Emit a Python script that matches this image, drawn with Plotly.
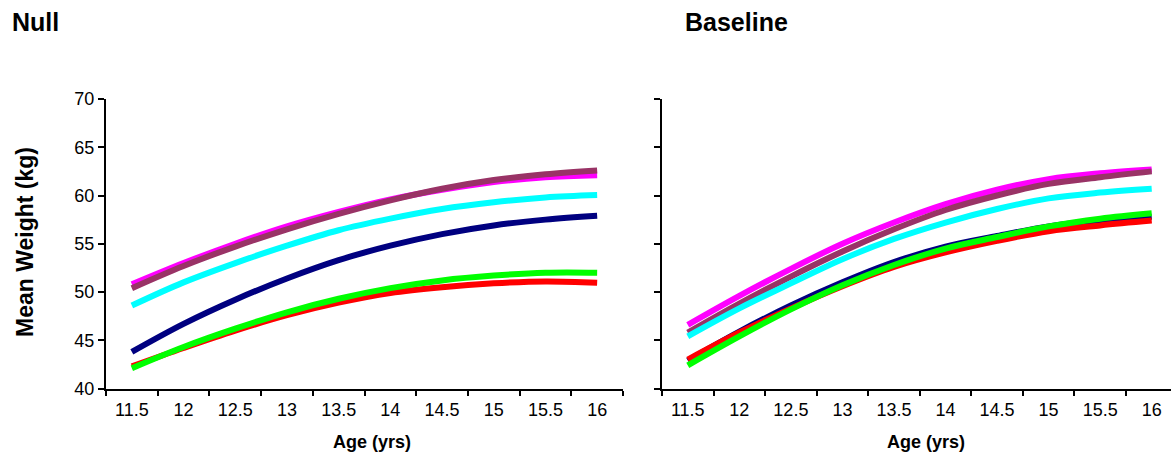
import plotly.graph_objects as go

W, H = 1171, 458

ages = [11.5, 12, 12.5, 13, 13.5, 14, 14.5, 15, 15.5, 16]
tick_labels = ["11.5", "12", "12.5", "13", "13.5", "14", "14.5", "15", "15.5", "16"]

# Null panel
null_magenta = [50.8, 53.0, 55.0, 56.8, 58.3, 59.6, 60.6, 61.4, 61.9, 62.1]
null_brown = [50.4, 52.7, 54.7, 56.5, 58.1, 59.5, 60.7, 61.6, 62.2, 62.6]
null_cyan = [48.6, 51.0, 53.0, 54.8, 56.4, 57.6, 58.6, 59.3, 59.8, 60.05]
null_navy = [43.8, 46.7, 49.2, 51.4, 53.3, 54.8, 56.0, 56.9, 57.5, 57.9]
null_red = [42.3, 44.2, 46.0, 47.6, 48.9, 49.9, 50.5, 50.9, 51.1, 50.96]
null_green = [42.1, 44.3, 46.2, 47.9, 49.3, 50.4, 51.2, 51.7, 52.0, 52.0]

# Baseline panel
base_magenta = [46.6, 49.6, 52.4, 55.0, 57.2, 59.1, 60.6, 61.7, 62.3, 62.7]
base_brown = [45.8, 48.8, 51.6, 54.2, 56.5, 58.5, 60.0, 61.2, 61.9, 62.5]
base_cyan = [45.4, 48.3, 50.9, 53.4, 55.5, 57.2, 58.6, 59.7, 60.3, 60.7]
base_navy = [42.9, 45.9, 48.6, 51.0, 53.1, 54.7, 55.8, 56.8, 57.4, 57.8]
base_red = [43.0, 45.8, 48.3, 50.6, 52.6, 54.1, 55.3, 56.3, 56.9, 57.4]
base_green = [42.4, 45.4, 48.2, 50.7, 52.8, 54.5, 55.7, 56.8, 57.6, 58.15]

colors = {
    "magenta": "#FF00FF",
    "brown": "#993366",
    "cyan": "#00FFFF",
    "navy": "#000080",
    "red": "#FF0000",
    "green": "#00FF00",
}

null_series = [("magenta", null_magenta), ("brown", null_brown), ("cyan", null_cyan),
               ("navy", null_navy), ("red", null_red), ("green", null_green)]
base_series = [("magenta", base_magenta), ("brown", base_brown), ("cyan", base_cyan),
               ("navy", base_navy), ("red", base_red), ("green", base_green)]

fig = go.Figure()
for name, vals in null_series:
    fig.add_trace(go.Scatter(x=ages, y=vals, mode="lines", name=name,
                             line=dict(color=colors[name], width=6, shape="spline", smoothing=1),
                             xaxis="x", yaxis="y", showlegend=False, hoverinfo="skip"))
for name, vals in base_series:
    fig.add_trace(go.Scatter(x=ages, y=vals, mode="lines", name=name,
                             line=dict(color=colors[name], width=6, shape="spline", smoothing=1),
                             xaxis="x2", yaxis="y2", showlegend=False, hoverinfo="skip"))

FONT = "Liberation Sans, Arial, sans-serif"
ydom = [(H - 388.5) / H, (H - 99) / H]

def xaxis(dom, rng):
    return dict(domain=dom, range=rng, tickmode="array", tickvals=ages, ticktext=tick_labels,
                ticks="", showline=True, linecolor="black", linewidth=2, showgrid=False,
                zeroline=False, automargin=False, ticklabelstandoff=4,
                tickfont=dict(family=FONT, size=18, color="black"),
                minor=dict(ticks="outside", tick0=11.25, dtick=0.5, ticklen=5,
                           tickcolor="black", tickwidth=1.5, showgrid=False),
                fixedrange=True)

def yaxis(anchor, showlabels):
    return dict(domain=ydom, range=[40, 70], tickmode="linear", tick0=40, dtick=5,
                ticks="outside", ticklen=6, tickwidth=1.5, tickcolor="black",
                showline=True, linecolor="black", linewidth=2, showgrid=False,
                zeroline=False, showticklabels=showlabels, anchor=anchor, automargin=False,
                tickfont=dict(family=FONT, size=18, color="black"), fixedrange=True)

fig.update_layout(
    width=W, height=H,
    margin=dict(l=0, r=0, t=0, b=0, autoexpand=False),
    paper_bgcolor="white", plot_bgcolor="white",
    xaxis=xaxis([106 / W, 623 / W], [11.25, 16.25]) | dict(anchor="y"),
    yaxis=yaxis("x", True),
    xaxis2=xaxis([662 / W, 1.0], [11.25, 16.25 - 6.5 / 103.4]) | dict(anchor="y2"),
    yaxis2=yaxis("x2", False),
    annotations=[
        dict(text="<b>Null</b>", x=10 / W, y=1 - 22 / H, xref="paper", yref="paper",
             xanchor="left", yanchor="middle", showarrow=False,
             font=dict(family=FONT, size=25, color="black")),
        dict(text="<b>Baseline</b>", x=683 / W, y=1 - 22 / H, xref="paper", yref="paper",
             xanchor="left", yanchor="middle", showarrow=False,
             font=dict(family=FONT, size=25, color="black")),
        dict(text="<b>Mean Weight (kg)</b>", x=25 / W, y=1 - 242 / H, xref="paper", yref="paper",
             xanchor="center", yanchor="middle", showarrow=False, textangle=-90,
             font=dict(family=FONT, size=23, color="black")),
        dict(text="<b>Age (yrs)</b>", x=372 / W, y=1 - 442 / H, xref="paper", yref="paper",
             xanchor="center", yanchor="middle", showarrow=False,
             font=dict(family=FONT, size=18, color="black")),
        dict(text="<b>Age (yrs)</b>", x=926 / W, y=1 - 442 / H, xref="paper", yref="paper",
             xanchor="center", yanchor="middle", showarrow=False,
             font=dict(family=FONT, size=18, color="black")),
    ],
)

fig.write_html("out.html")
